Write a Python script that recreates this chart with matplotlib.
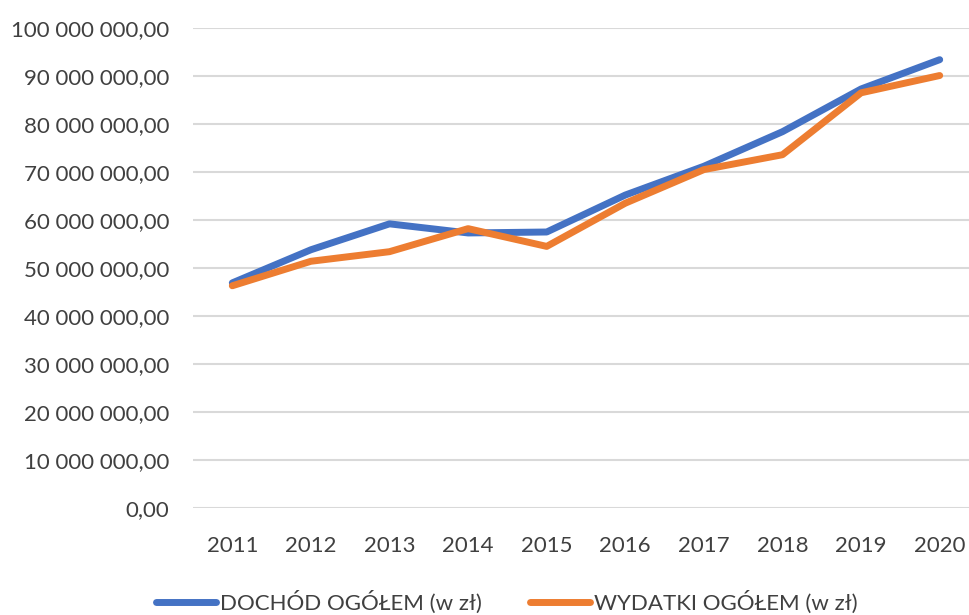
import matplotlib.pyplot as plt
from matplotlib.ticker import FuncFormatter, MultipleLocator

# lata i wartosci
lata = ['2011', '2012', '2013', '2014', '2015', '2016', '2017', '2018', '2019', '2020']
dochod = [46.9e6, 53.8e6, 59.2e6, 57.3e6, 57.5e6, 65.2e6, 71.2e6, 78.4e6, 87.3e6, 93.4e6]
wydatki = [46.3e6, 51.4e6, 53.4e6, 58.2e6, 54.5e6, 63.5e6, 70.5e6, 73.6e6, 86.5e6, 90.1e6]

plt.rcParams['font.family'] = ['Lato', 'DejaVu Sans']
kolor_tekstu = '#404040'

fig = plt.figure(figsize=(9.69, 6.15), dpi=100)
ax = fig.add_axes([193 / 969, 107 / 615, 786 / 969, 480 / 615])

x = range(len(lata))
ax.plot(x, dochod, color='#4472C4', lw=5, solid_capstyle='round', solid_joinstyle='round',
        label='DOCHÓD OGÓŁEM (w zł)', zorder=3)
ax.plot(x, wydatki, color='#ED7D31', lw=5, solid_capstyle='round', solid_joinstyle='round',
        label='WYDATKI OGÓŁEM (w zł)', zorder=3)

ax.set_xlim(-0.5, len(lata) - 0.5)
ax.set_ylim(0, 100e6)
ax.set_xticks(list(x))
ax.set_xticklabels(lata)
ax.yaxis.set_major_locator(MultipleLocator(10e6))

def fmt(v, pos):
    return f'{v:,.2f}'.replace(',', ' ').replace('.', ',')

ax.yaxis.set_major_formatter(FuncFormatter(fmt))
ax.grid(axis='y', color='#D9D9D9', lw=1.5)
ax.set_axisbelow(True)
for s in ax.spines.values():
    s.set_visible(False)
ax.tick_params(axis='both', length=0, labelsize=16, labelcolor=kolor_tekstu)
ax.tick_params(axis='y', pad=17)
ax.tick_params(axis='x', pad=20)

fig.legend(loc='center', bbox_to_anchor=(0.523, 0.02), ncol=2, frameon=False,
           fontsize=16, labelcolor=kolor_tekstu, handlelength=2.7,
           handletextpad=0.15, columnspacing=2.2)

fig.savefig('out.png', dpi=100)
